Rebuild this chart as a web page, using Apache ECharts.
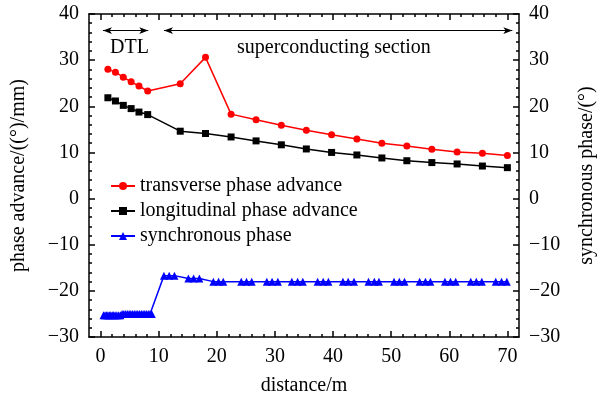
<!DOCTYPE html>
<html>
<head>
<meta charset="utf-8">
<script src="https://cdn.jsdelivr.net/npm/echarts@6/dist/echarts.min.js"></script>
<style>
html,body{margin:0;padding:0;background:#fff;}
#c{width:605px;height:402px;}
</style>
</head>
<body>
<div id="c"></div>
<script>
// ---- data ----
const distance = [1.25, 2.55, 3.9, 5.25, 6.6, 8.1, 13.7, 18.05, 22.45, 26.75, 31.1, 35.4, 39.75, 44.1, 48.4, 52.7, 57.0, 61.35, 65.7, 70.0];
const transverse = [28.0, 27.4, 26.3, 25.3, 24.4, 23.3, 24.9, 30.6, 18.3, 17.1, 15.9, 14.8, 13.85, 12.9, 12.0, 11.4, 10.7, 10.1, 9.8, 9.35];
const longitudinal = [21.85, 21.15, 20.2, 19.5, 18.75, 18.2, 14.6, 14.1, 13.35, 12.5, 11.65, 10.75, 10.0, 9.45, 8.8, 8.2, 7.8, 7.5, 7.05, 6.7];
const syncDistance = [0.5, 0.75, 1.0, 1.25, 1.5, 1.75, 2.0, 2.25, 2.5, 2.8, 3.1, 3.4, 3.7, 4.0, 4.3, 4.6, 4.9, 5.2, 5.5, 5.8, 6.1, 6.4, 6.7, 7.0, 7.3, 7.6, 7.9, 8.2, 8.5, 8.8,
  10.9, 11.8, 12.7, 15.1, 16.0, 17.0, 19.4, 20.3, 21.1, 24.2, 25.1, 26.0, 28.6, 29.5, 30.5, 32.9, 33.9, 34.8,
  37.35, 38.3, 39.2, 41.7, 42.6, 43.6, 46.1, 47.1, 47.9, 50.5, 51.4, 52.3, 54.9, 55.9, 56.75, 59.25, 60.2, 61.1,
  63.7, 64.65, 65.6, 68.0, 69.0, 69.9];
const syncPhase = [-25.3, -25.3, -25.3, -25.3, -25.3, -25.3, -25.3, -25.3, -25.3, -25.3, -25.3, -25.3, -25, -25, -25, -25, -25, -25, -25, -25, -25, -25, -25, -25, -25, -25, -25, -25, -25, -25,
  -16.7, -16.7, -16.7, -17.3, -17.3, -17.3, -18, -18, -18, -18, -18, -18, -18, -18, -18, -18, -18, -18,
  -18, -18, -18, -18, -18, -18, -18, -18, -18, -18, -18, -18, -18, -18, -18, -18, -18, -18,
  -18, -18, -18, -18, -18, -18];
const xMajorTicks = [0, 10, 20, 30, 40, 50, 60, 70];
const xMinorTicks = [2, 4, 6, 8, 12, 14, 16, 18, 22, 24, 26, 28, 32, 34, 36, 38, 42, 44, 46, 48, 52, 54, 56, 58, 62, 64, 66, 68];
const dtlArrow = [[0.4, 36.4], [8.2, 36.4]];
const scArrow = [[10.9, 36.4], [70.85, 36.4]];

// ---- chart ----
const FONT = 'Liberation Serif';
const zip = (xs, ys) => xs.map((x, i) => [x, ys[i]]);
const fmt = v => v < 0 ? '\u2212' + Math.abs(v) : String(v);
const lineC = { color: '#000', width: 1.5 };

function xAx(pos, ticks, len, labels, line) {
  return {
    type: 'value', position: pos, min: -2, max: 72, gridIndex: 0,
    axisLine: { show: line, onZero: false, lineStyle: lineC },
    axisTick: { show: true, inside: true, length: len, customValues: ticks, lineStyle: lineC },
    axisLabel: labels ? { show: true, customValues: ticks, fontFamily: FONT, fontSize: 20, color: '#000', margin: 10 } : { show: false },
    splitLine: { show: false }
  };
}
function yAx(pos, showLabel, name, gap) {
  return {
    type: 'value', position: pos, min: -30, max: 40, interval: 10,
    name: name, nameLocation: 'middle', nameGap: gap, nameRotate: 90,
    nameTextStyle: { fontFamily: FONT, fontSize: 20, color: '#000' },
    axisLine: { show: true, onZero: false, lineStyle: lineC },
    axisTick: { show: true, inside: true, length: 6, lineStyle: lineC },
    minorTick: { show: true, splitNumber: 5, length: 3, lineStyle: lineC },
    axisLabel: { show: showLabel, fontFamily: FONT, fontSize: 20, color: '#000', margin: 10, formatter: fmt },
    splitLine: { show: false }
  };
}

const xAxes = [xAx('bottom', xMajorTicks, 6, true, true), xAx('bottom', xMinorTicks, 3, false, false),
  xAx('top', xMajorTicks, 6, false, true), xAx('top', xMinorTicks, 3, false, false)];
xAxes[0].name = 'distance/m';
xAxes[0].nameLocation = 'middle';
xAxes[0].nameGap = 39;
xAxes[0].nameTextStyle = { fontFamily: FONT, fontSize: 20, color: '#000' };

const chart = echarts.init(document.getElementById('c'), null, { renderer: 'canvas' });
chart.setOption({
  animation: false,
  backgroundColor: '#fff',
  grid: { left: 89, right: 80, top: 14, bottom: 65 },
  xAxis: xAxes,
  yAxis: [yAx('left', true, 'phase advance/((\u00b0)/mm)', 60), yAx('right', true, 'synchronous phase/(\u00b0)', 58)],
  legend: {
    orient: 'vertical', left: 105, top: 171, itemWidth: 24, itemHeight: 10, itemGap: 5,
    textStyle: { fontFamily: FONT, fontSize: 20, color: '#000' },
    data: ['transverse phase advance', 'longitudinal phase advance', 'synchronous phase']
  },
  graphic: [
    { type: 'text', left: 110, top: 38, style: { text: 'DTL', font: '20px "Liberation Serif"', fill: '#000' } },
    { type: 'text', left: 237, top: 38, style: { text: 'superconducting section', font: '20px "Liberation Serif"', fill: '#000' } }
  ],
  series: [
    {
      name: 'transverse phase advance', type: 'line', xAxisIndex: 0, yAxisIndex: 0,
      data: zip(distance, transverse), symbol: 'circle', symbolSize: 7,
      itemStyle: { color: '#ff0000' }, lineStyle: { color: '#ff0000', width: 1.5 },
      markLine: {
        silent: true, symbol: ['arrow', 'arrow'], symbolSize: [5, 9],
        lineStyle: { color: '#000', width: 1, type: 'solid' }, label: { show: false },
        data: [
          [{ coord: dtlArrow[0] }, { coord: dtlArrow[1] }],
          [{ coord: scArrow[0] }, { coord: scArrow[1] }]
        ]
      }
    },
    {
      name: 'longitudinal phase advance', type: 'line', xAxisIndex: 0, yAxisIndex: 0,
      data: zip(distance, longitudinal), symbol: 'rect', symbolSize: 7,
      itemStyle: { color: '#000' }, lineStyle: { color: '#000', width: 1.5 }
    },
    {
      name: 'synchronous phase', type: 'line', xAxisIndex: 0, yAxisIndex: 1,
      data: zip(syncDistance, syncPhase), symbol: 'triangle', symbolSize: 8,
      itemStyle: { color: '#0000ff' }, lineStyle: { color: '#0000ff', width: 1.5 }
    }
  ]
});
</script>
</body>
</html>
